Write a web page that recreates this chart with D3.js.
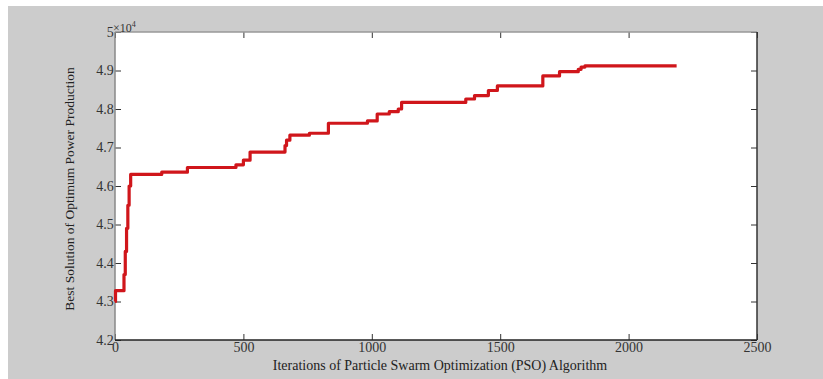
<!DOCTYPE html>
<html><head><meta charset="utf-8">
<script src="https://cdn.jsdelivr.net/npm/d3@7"></script>
<style>body{margin:0;background:#fff}svg{display:block}</style>
</head><body>
<svg id="c" width="823" height="379"></svg>
<script>
const iterations = [0, 2, 35, 40, 45, 50, 55, 61, 182, 282, 471, 500, 526, 662, 668, 681, 757, 831, 983, 1021, 1068, 1103, 1116, 1366, 1400, 1454, 1489, 1666, 1731, 1804, 1815, 1830, 2187];
const bestPower = [43000, 43280, 43700, 44300, 44900, 45500, 46000, 46300, 46360, 46480, 46550, 46670, 46880, 47050, 47190, 47320, 47370, 47630, 47690, 47870, 47930, 48000, 48170, 48260, 48350, 48480, 48600, 48860, 48970, 49030, 49090, 49120, 49120];
const xTicks = [0, 500, 1000, 1500, 2000, 2500];
const yTicks = [42000, 43000, 44000, 45000, 46000, 47000, 48000, 49000, 50000];

const svg = d3.select("#c");
svg.append("rect").attr("x", 8).attr("y", 6).attr("width", 815).attr("height", 373).attr("fill", "#cccccc");

const L = 115, R = 757, T = 32, B = 340;
const x = d3.scaleLinear().domain([0, 2500]).range([L, R]);
const y = d3.scaleLinear().domain([42000, 50000]).range([B, T]);

svg.append("rect").attr("x", L).attr("y", T).attr("width", R - L).attr("height", B - T).attr("fill", "#fff");

const font = "Liberation Serif, Times New Roman, serif";
const fmtY = d => (d / 1e4).toFixed(1).replace(/\.0$/, "");

const gx = svg.append("g").attr("transform", `translate(0,${B})`)
  .call(d3.axisBottom(x).tickValues(xTicks).tickSize(-6).tickPadding(2).tickFormat(d3.format("d")));
const gy = svg.append("g").attr("transform", `translate(${L},0)`)
  .call(d3.axisLeft(y).tickValues(yTicks).tickSize(-6).tickPadding(4).tickFormat(fmtY));
const gt = svg.append("g").attr("transform", `translate(0,${T})`)
  .call(d3.axisTop(x).tickValues(xTicks).tickSize(-6).tickFormat(""));
const gr = svg.append("g").attr("transform", `translate(${R},0)`)
  .call(d3.axisRight(y).tickValues(yTicks).tickSize(-6).tickFormat(""));

[gx, gy, gt, gr].forEach(g => {
  g.selectAll(".domain").remove();
  g.selectAll(".tick line").attr("stroke", "#333").attr("stroke-width", 1);
  g.selectAll("text").attr("font-family", font).attr("font-size", 14).attr("fill", "#333");
});
gy.selectAll(".tick text").attr("dx", "0.2em");

svg.append("line").attr("x1", L).attr("x2", R).attr("y1", T).attr("y2", T).attr("stroke", "#999").attr("stroke-width", 1.5);
svg.append("line").attr("x1", L).attr("x2", L).attr("y1", T).attr("y2", B).attr("stroke", "#888").attr("stroke-width", 1.5);
svg.append("line").attr("x1", L).attr("x2", R).attr("y1", B).attr("y2", B).attr("stroke", "#222").attr("stroke-width", 1.5);
svg.append("line").attr("x1", R).attr("x2", R).attr("y1", T).attr("y2", B).attr("stroke", "#333").attr("stroke-width", 1.5);

const ex = svg.append("text").attr("x", 113).attr("y", 32).attr("font-family", font).attr("font-size", 12).attr("fill", "#333");
ex.append("tspan").text("×10");
ex.append("tspan").attr("font-size", 8).attr("dy", -5).text("4");

const pts = iterations.map((d, i) => [d, bestPower[i]]);
svg.append("path").datum(pts)
  .attr("fill", "none").attr("stroke", "#d0161b").attr("stroke-width", 3.2).attr("stroke-linejoin", "round")
  .attr("d", d3.line().x(d => x(d[0])).y(d => y(d[1])).curve(d3.curveStepAfter));

svg.append("text").attr("x", 440).attr("y", 370).attr("text-anchor", "middle")
  .attr("font-family", font).attr("font-size", 14).attr("fill", "#222")
  .text("Iterations of Particle Swarm Optimization (PSO) Algorithm");
svg.append("text").attr("transform", "translate(74,189) rotate(-90)").attr("text-anchor", "middle")
  .attr("font-family", font).attr("font-size", 13.5).attr("fill", "#222")
  .text("Best Solution of Optimum Power Production");
</script>
</body></html>
